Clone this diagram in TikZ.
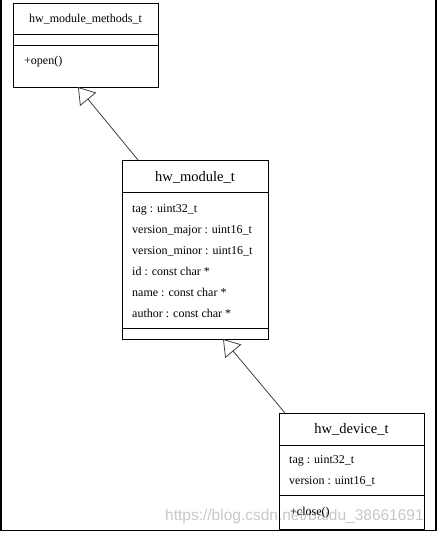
\documentclass[tikz,border=0pt]{standalone}
\usepackage{fontspec}
\setmainfont{Liberation Serif}
\newfontfamily\wmfont{Liberation Sans}
\usetikzlibrary{arrows.meta}
\begin{document}
\begin{tikzpicture}[x=1pt,y=-1pt,
  box/.style={draw=black, line width=1pt, rectangle, inner sep=0pt, anchor=north west},
  sepline/.style={draw=black, line width=1pt},
  bigtitle/.style={font=\fontsize{14.5}{16}\selectfont, inner sep=0pt},
  smalltitle/.style={font=\fontsize{12}{14}\selectfont, inner sep=0pt},
  attr/.style={font=\fontsize{12}{14}\selectfont, inner sep=0pt, anchor=west},
  inh/.style={draw=black!75, line width=0.8pt, -{Triangle[open,length=16pt,width=21pt,fill=white]}},
  framel/.style={draw=black, line width=1.5pt},
  wm/.style={font=\wmfont\fontsize{15.5}{17}\selectfont, text=black!22, inner sep=0pt, anchor=west}]
\useasboundingbox (0,0) rectangle (439,533);
% watermark
\node[wm] (wmark) at (165,516) {https://blog.csdn.net/baidu\_38661691};
% outer frame
\draw[framel] (1,0) -- (1,530.5) -- (436,530.5) -- (436,0);
% box 1
\node[box, minimum width=145pt, minimum height=84pt] (meth) at (13,3) {};
\draw[sepline] (13,34) -- (158,34);
\draw[sepline] (13,45) -- (158,45);
\node[smalltitle] (methT) at (85.5,19) {hw\_module\_methods\_t};
\node[attr] (open) at (24,62) {+open()};
% box 2
\node[box, minimum width=146pt, minimum height=179pt] (mod) at (122,160) {};
\draw[sepline] (122,192) -- (268,192);
\draw[sepline] (122,328) -- (268,328);
\node[bigtitle] (modT) at (195,177) {hw\_module\_t};
\node[attr] (m1) at (132,210) {tag : uint32\_t};
\node[attr] (m2) at (132,230.6) {version\_major : uint16\_t};
\node[attr] (m3) at (132,251.2) {version\_minor : uint16\_t};
\node[attr] (m4) at (132,271.8) {id : const char *};
\node[attr] (m5) at (132,292.4) {name : const char *};
\node[attr] (m6) at (132,313) {author : const char *};
% box 3
\node[box, minimum width=145pt, minimum height=116pt] (dev) at (279,413) {};
\draw[sepline] (279,445) -- (424,445);
\draw[sepline] (279,495) -- (424,495);
\node[bigtitle] (devT) at (351.5,429) {hw\_device\_t};
\node[attr] (d1) at (289,461) {tag : uint32\_t};
\node[attr] (d2) at (289,481.5) {version : uint16\_t};
\node[attr] (close) at (290,513) {+close()};
% inheritance connectors
\coordinate (a1s) at (138,160);
\coordinate (a1t) at (78,87);
\coordinate (a2s) at (285,413);
\coordinate (a2t) at (223,339);
\draw[inh] (a1s) -- (a1t);
\draw[inh] (a2s) -- (a2t);
\end{tikzpicture}
\end{document}
